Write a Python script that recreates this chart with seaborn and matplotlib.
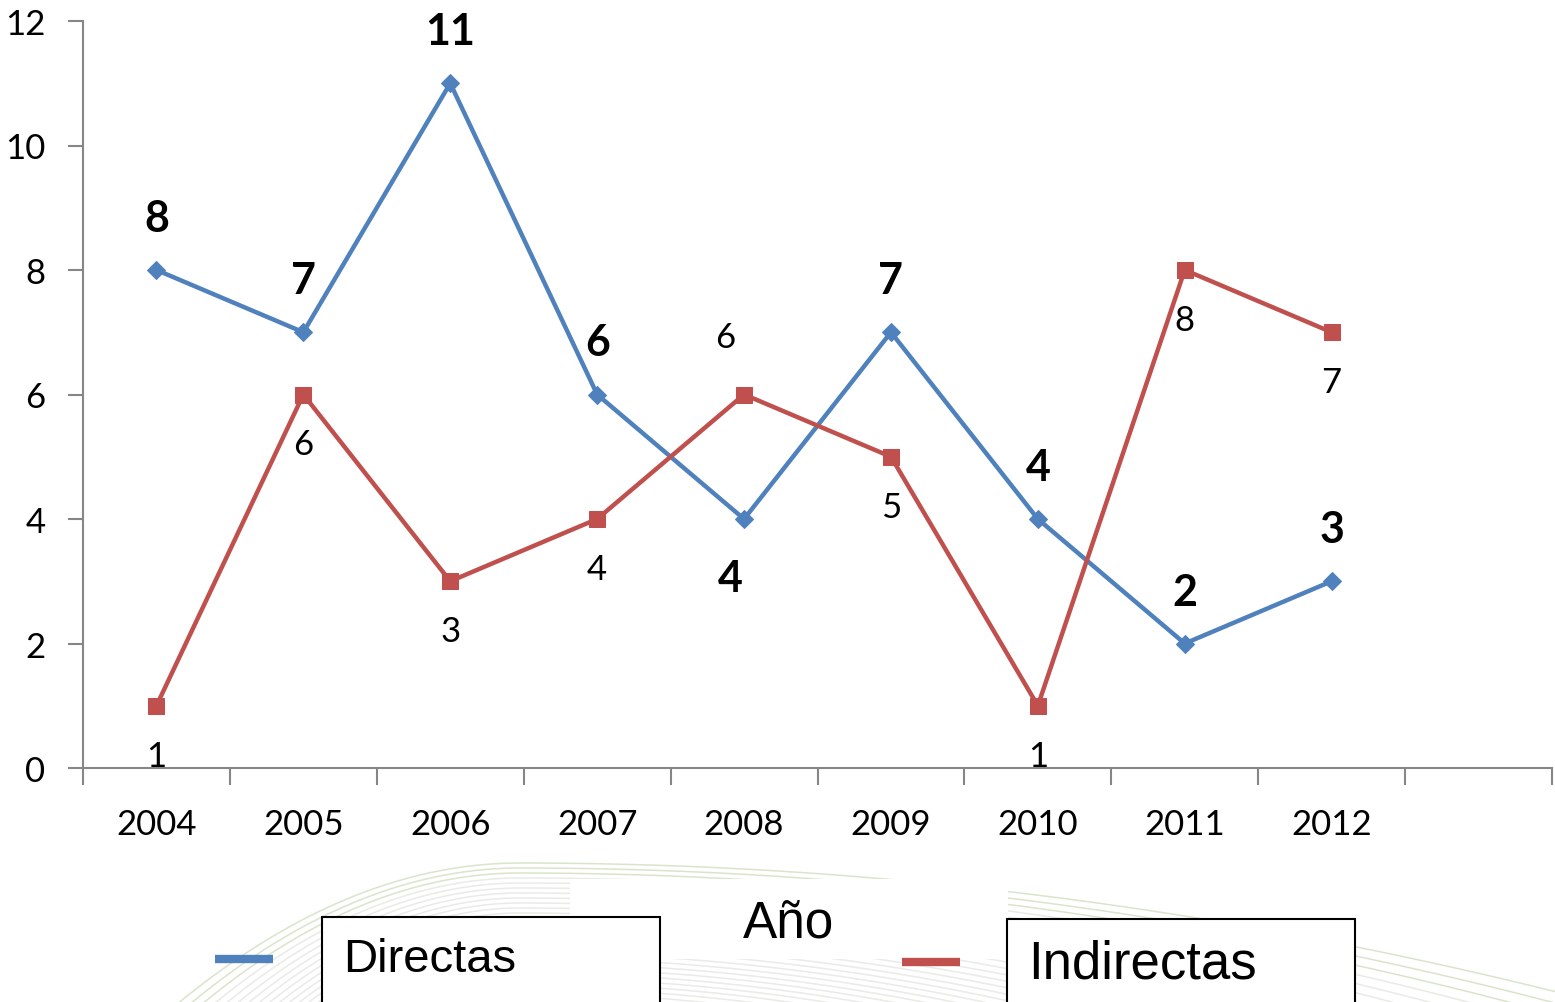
import numpy as np
import pandas as pd
import matplotlib.pyplot as plt
import seaborn as sns
from matplotlib.lines import Line2D
from matplotlib.patches import Rectangle

years = ["2004", "2005", "2006", "2007", "2008", "2009", "2010", "2011", "2012"]
directas = [8, 7, 11, 6, 4, 7, 4, 2, 3]
indirectas = [1, 6, 3, 4, 6, 5, 1, 8, 7]
yticks = [0, 2, 4, 6, 8, 10, 12]

BLUE = "#4F81BD"
RED = "#C0504D"
AXIS = "#868686"

sns.set_style("white")
plt.rcParams["font.family"] = ["Lato", "DejaVu Sans"]

df = pd.DataFrame({"pos": range(len(years)), "Directas": directas, "Indirectas": indirectas})

fig = plt.figure(figsize=(15.55, 10.03), dpi=100)

# faint decorative background curves at the bottom
bg = fig.add_axes([0, 0, 1, 1], zorder=0)
bg.set_xlim(0, 1555)
bg.set_ylim(1003, 0)
bg.axis("off")
xs = np.linspace(0, 1555, 400)
for k in range(30):
    top = 864 + k * 5
    left = 0.0012 * (1 + k * 0.04) * np.clip(520 - xs, 0, None) ** 2
    right = 0.00012 * (1 + k * 0.05) * np.clip(xs - 520, 0, None) ** 2
    col = "#c9d9b4" if k < 3 else "#dfe3dc"
    bg.plot(xs, top + left + right, color=col, lw=1.1, alpha=0.7)
bg.add_patch(Rectangle((570, 880), 438, 80, facecolor="white", edgecolor="none", zorder=3))

ax = fig.add_axes([83 / 1555, 1 - 769 / 1003, (1552 - 83) / 1555, (769 - 22) / 1003], zorder=1)
ax.patch.set_alpha(0)

sns.lineplot(data=df, x="pos", y="Directas", ax=ax, color=BLUE, lw=3.2,
             marker="D", markersize=9, markeredgecolor=BLUE)
sns.lineplot(data=df, x="pos", y="Indirectas", ax=ax, color=RED, lw=3.2,
             marker="s", markersize=12, markeredgecolor=RED)

ax.set_xlim(-0.5, 9.5)
ax.set_ylim(0, 12)
ax.set_yticks(yticks)
ax.set_xticks(range(len(years)))
ax.set_xticklabels(years)
ax.set_xticks(np.arange(-0.5, 10, 1), minor=True)
ax.tick_params(axis="x", which="major", bottom=True, length=0, pad=29, labelsize=25, labelcolor="black")
ax.tick_params(axis="x", which="minor", bottom=True, length=12, width=1.5, color=AXIS, direction="out")
ax.tick_params(axis="y", left=True, length=11, width=1.5, color=AXIS, labelsize=25,
               labelcolor="black", pad=16)
ax.set_xlabel("")
ax.set_ylabel("")
for s in ["top", "right"]:
    ax.spines[s].set_visible(False)
for s in ["left", "bottom"]:
    ax.spines[s].set_color(AXIS)
    ax.spines[s].set_linewidth(1.5)

px = 72 / 100
d_off = {4: (-14, -59)}
for i, v in enumerate(directas):
    dx, dy = d_off.get(i, (0, 52))
    ax.annotate(str(v), (i, v), xytext=(dx * px, dy * px), textcoords="offset points",
                ha="center", va="center", fontsize=31, fontweight="bold", color="black")
i_off = {4: (-19, 57)}
for i, v in enumerate(indirectas):
    dx, dy = i_off.get(i, (0, -50))
    ax.annotate(str(v), (i, v), xytext=(dx * px, dy * px), textcoords="offset points",
                ha="center", va="center", fontsize=25, color="black")

# axis title and legend boxes
arial = ["Liberation Sans", "DejaVu Sans"]
fig.text(789 / 1555, 1 - 924 / 1003, "Año", ha="center", va="center", fontsize=37,
         family=arial, color="black", zorder=5)
fig.add_artist(Line2D([215 / 1555, 273 / 1555], [1 - 960 / 1003] * 2, color=BLUE, lw=6,
                      solid_capstyle="butt"))
fig.add_artist(Line2D([902 / 1555, 960 / 1555], [1 - 963 / 1003] * 2, color=RED, lw=6,
                      solid_capstyle="butt"))
bg.add_patch(Rectangle((322, 918), 338, 100, facecolor="white", edgecolor="black", lw=1.5, zorder=4))
bg.add_patch(Rectangle((1007, 920), 348, 100, facecolor="white", edgecolor="black", lw=1.5, zorder=4))
fig.text(343 / 1555, 1 - 960 / 1003, "Directas", ha="left", va="center", fontsize=34,
         family=arial, color="black", zorder=5)
fig.text(1028 / 1555, 1 - 965 / 1003, "Indirectas", ha="left", va="center", fontsize=38,
         family=arial, color="black", zorder=5)

fig.savefig("out.png", dpi=100)
